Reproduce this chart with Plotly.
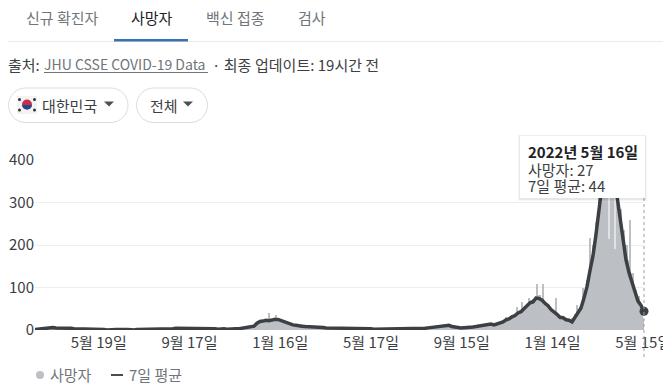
from datetime import date, timedelta
import plotly.graph_objects as go

W, H = 655, 382
FONT = "Noto Sans CJK KR"

start = date(2020, 2, 24)
avg_values = [
    1,2,3,4,5,6,6,5,5,6,
    6,5,4,3,3,2,2,2,1,1,
    1,1,1,1,0,1,1,1,1,0,
    1,1,0,0,1,1,1,1,1,1,
    1,1,1,2,2,3,3,4,4,4,
    5,4,5,5,4,4,3,3,3,3,
    3,2,3,3,2,3,3,3,3,4,
    4,5,7,9,16,20,21,23,22,24,
    25,25,22,20,16,15,12,11,11,9,
    8,8,7,7,6,6,6,5,5,5,
    4,4,4,4,4,3,3,3,3,3,
    3,3,3,2,2,2,2,2,3,3,
    3,2,2,2,2,2,3,3,3,4,
    4,5,6,7,8,7,8,9,11,8,
    6,6,5,5,5,6,7,8,9,10,
    11,12,14,12,14,17,19,24,26,31,
    34,40,43,50,56,64,66,75,74,70,
    63,57,48,43,37,30,29,24,23,19,
    30,43,52,75,102,140,175,225,290,340,
    360,365,358,345,315,260,215,165,135,110,
    90,68,58,44,
]
death_values = [
    1,3,4,6,7,5,8,5,6,7,
    7,5,4,4,3,2,3,2,1,1,
    1,2,1,1,0,1,2,1,1,0,
    1,1,0,1,1,2,1,1,1,1,
    1,2,1,2,3,3,4,4,5,4,
    5,5,5,6,4,4,3,4,3,3,
    3,2,3,4,2,3,3,4,3,4,
    5,6,8,11,16,22,24,26,28,27,
    30,27,24,20,17,15,13,11,10,9,
    9,8,7,8,6,7,6,5,6,5,
    4,5,4,4,5,3,3,4,3,3,
    3,4,3,2,3,2,2,3,3,3,
    3,2,3,2,2,3,3,4,3,4,
    5,6,7,8,9,8,9,11,13,9,
    7,6,6,5,6,7,8,9,10,11,
    13,14,15,13,16,20,24,27,31,34,
    38,44,48,55,62,70,72,80,82,72,
    64,55,48,44,38,30,28,24,22,29,
    38,50,60,85,118,165,200,255,320,360,
    375,385,370,355,330,285,235,200,165,135,
    95,80,60,27,
]
spike_dates = ["2021-01-01","2021-01-10","2021-11-13","2021-11-28","2021-12-04","2021-12-14",
               "2021-12-24","2022-01-01","2022-01-19","2022-02-16","2022-02-24","2022-03-05",
               "2022-04-18","2022-04-28"]
spike_values = [40,35,31,55,67,75,108,108,75,59,99,216,190,260]
notch_dates = ["2022-03-30","2022-04-07"]
notch_lows = [215,190]
notch_heights = [120,160]

tick_dates = ["2020-05-19","2020-09-17","2021-01-16","2021-05-17","2021-09-15","2022-01-14","2022-05-15"]
tick_labels = ["5월 19일","9월 17일","1월 16일","5월 17일","9월 15일","1월 14일","5월 15일"]
y_ticks = [0,100,200,300,400]

tabs = ["신규 확진자","사망자","백신 접종","검사"]
tooltip_lines = ["2022년 5월 16일","사망자: 27","7일 평균: 44"]

dates = [start + timedelta(days=4*i) for i in range(len(avg_values))]
DAY = 86400000
BAR = "#bcbfc4"
DARK = "#3c4043"

# the page has an 8px body margin: coordinates below are window pixels
def px(x): return (x - 8) / W
def py(y): return (H - (y - 8)) / H

def rect(x0, y0, x1, y1, **kw):
    return dict(type="rect", xref="paper", yref="paper", x0=px(x0), x1=px(x1), y0=py(y0), y1=py(y1), **kw)

def pill(x0, y0, x1, y1):
    r = (y1 - y0) / 2
    path = (f"M {px(x0+r)} {py(y0)} L {px(x1-r)} {py(y0)} "
            f"C {px(x1-r*0.45)} {py(y0)} {px(x1)} {py(y0+r*0.45)} {px(x1)} {py(y0+r)} "
            f"C {px(x1)} {py(y1-r*0.45)} {px(x1-r*0.45)} {py(y1)} {px(x1-r)} {py(y1)} "
            f"L {px(x0+r)} {py(y1)} "
            f"C {px(x0+r*0.45)} {py(y1)} {px(x0)} {py(y1-r*0.45)} {px(x0)} {py(y0+r)} "
            f"C {px(x0)} {py(y0+r*0.45)} {px(x0+r*0.45)} {py(y0)} {px(x0+r)} {py(y0)} Z")
    return dict(type="path", xref="paper", yref="paper", path=path, line=dict(color="#dadce0", width=1), fillcolor="white")

def tri(cx, cy):
    return dict(type="path", xref="paper", yref="paper",
                path=f"M {px(cx-5)} {py(cy-2.5)} L {px(cx+5)} {py(cy-2.5)} L {px(cx)} {py(cy+2.5)} Z",
                fillcolor="#4d5156", line=dict(width=0))

def circ(cx, cy, r, color):
    return dict(type="circle", xref="paper", yref="paper", x0=px(cx-r), x1=px(cx+r), y0=py(cy+r), y1=py(cy-r),
                fillcolor=color, line=dict(width=0))

def txt(x, y, s, size=15, color=DARK, anchor="left", bold=False):
    return dict(xref="paper", yref="paper", x=px(x), y=py(y), text=f"<b>{s}</b>" if bold else s,
                showarrow=False, xanchor=anchor, yanchor="middle", align=anchor,
                font=dict(family=FONT, size=size, color=color), borderpad=0, borderwidth=0)

shapes = [
    rect(8, 41, 663, 42, fillcolor="#e8eaed", line=dict(width=0)),
    rect(114, 39, 188, 41.5, fillcolor="#3a72b0", line=dict(width=0)),
    rect(44, 72, 208, 73, fillcolor="#70757a", line=dict(width=0)),
    pill(8.5, 88, 128, 122.5), pill(136.5, 88, 207.5, 122.5),
    rect(17, 96, 37, 114, fillcolor="#f3f3f3", line=dict(width=0)),
    circ(27, 104.5, 5, "#c8304a"),
    dict(type="path", xref="paper", yref="paper",
         path=f"M {px(22)} {py(105)} C {px(23)} {py(111)} {px(31)} {py(111)} {px(32)} {py(105)} Z",
         fillcolor="#1f4a94", line=dict(width=0)),
    circ(19.5, 99.5, 1.5, "#333"), circ(34.5, 99.5, 1.5, "#333"),
    circ(19.5, 110, 1.5, "#333"), circ(34.5, 110, 1.5, "#333"),
    tri(109, 104), tri(188, 104),
    dict(type="line", xref="paper", yref="paper", x0=px(644), x1=px(644), y0=py(198), y1=py(358),
         line=dict(color="#9aa0a6", width=1, dash="dot")),
    rect(518, 135, 647, 201, fillcolor="rgba(0,0,0,0.035)", line=dict(width=0)),
    rect(519, 135.5, 646, 200, fillcolor="rgba(0,0,0,0.06)", line=dict(width=0)),
    rect(520, 136, 645, 198, fillcolor="white", line=dict(width=0)),
    circ(40, 375, 4, BAR),
    rect(111, 374, 123, 376, fillcolor="#4a4e52", line=dict(width=0)),
]

annotations = [
    txt(62, 18, tabs[0], color="#70757a", anchor="center"),
    txt(152, 18, tabs[1], color="#202124", anchor="center"),
    txt(235, 18, tabs[2], color="#70757a", anchor="center"),
    txt(312, 18, tabs[3], color="#70757a", anchor="center"),
    txt(8, 64, "출처:", color="#3c4043"),
    txt(44, 64, "JHU CSSE COVID-19 Data", size=14, color="#70757a"),
    txt(212, 64, "· 최종", color="#3c4043"),
    txt(255, 64, "업데이트: 19시간 전", color="#3c4043"),
    txt(42, 105.5, "대한민국", color="#3c4043"),
    txt(150, 105.5, "전체", color="#3c4043"),
    txt(528, 152, tooltip_lines[0], color="#202124", bold=True),
    txt(528, 169, tooltip_lines[1], color="#3c4043"),
    txt(528, 185, tooltip_lines[2], color="#3c4043"),
    txt(50, 374.5, "사망자", color="#70757a"),
    txt(129, 374.5, "7일 평균", color="#70757a"),
]

fig = go.Figure()
fig.add_bar(x=dates, y=death_values, width=4*DAY, marker=dict(color=BAR, line=dict(width=0)), name="사망자")
fig.add_bar(x=spike_dates, y=spike_values, width=1.4*DAY, marker=dict(color=BAR, line=dict(width=0)), name="사망자")
fig.add_bar(x=notch_dates, y=notch_heights, base=notch_lows, width=1.4*DAY, marker=dict(color="#dfe1e4", line=dict(width=0)), name="사망자")
fig.add_scatter(x=dates, y=avg_values, mode="lines", line=dict(color=DARK, width=3.5), name="7일 평균", cliponaxis=False)
fig.add_scatter(x=[dates[-1]], y=[avg_values[-1]], mode="markers", marker=dict(color=DARK, size=9), name="7일 평균", cliponaxis=False)

fig.update_layout(
    width=W, height=H, margin=dict(l=0, r=0, t=0, b=0),
    paper_bgcolor="white", plot_bgcolor="white", showlegend=False, barmode="overlay", bargap=0,
    font=dict(family=FONT, size=15, color=DARK),
    shapes=shapes, annotations=annotations,
    xaxis=dict(domain=[px(35), px(644)], range=[dates[0], dates[-1]], tickmode="array", automargin=False,
               tickvals=tick_dates, ticktext=tick_labels, showgrid=False, showline=False,
               zeroline=False, ticks="", tickfont=dict(size=15, color=DARK), ticklabeloverflow="allow",
               ticklabelstandoff=2),
    yaxis=dict(domain=[py(330), py(160)], range=[0, 400], tickmode="array", tickvals=y_ticks, automargin=False,
               showgrid=True, gridcolor="#eeeeee", gridwidth=1, zeroline=False, showline=False,
               ticks="", tickfont=dict(size=15, color=DARK)),
)
fig.write_html("out.html")
